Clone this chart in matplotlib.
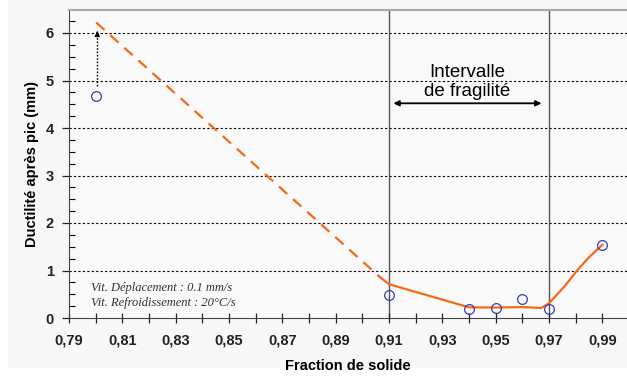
import matplotlib
matplotlib.use("Agg")
import matplotlib.pyplot as plt
from matplotlib.patches import Rectangle

# measured points (open circles)
frac_meas = [0.80, 0.91, 0.94, 0.95, 0.96, 0.97, 0.99]
duct_meas = [4.67, 0.49, 0.20, 0.21, 0.41, 0.18, 1.54]

# fitted trend: dashed extrapolated part, then solid part
frac_dash = [0.8002, 0.9066]
duct_dash = [6.22, 0.86]
frac_fit = [0.9066, 0.91, 0.94, 0.95, 0.96, 0.967, 0.97, 0.9716, 0.976, 0.9805, 0.985, 0.99]
duct_fit = [0.86, 0.71, 0.225, 0.22, 0.23, 0.21, 0.31, 0.41, 0.68, 1.0, 1.28, 1.54]

x_ticks = [0.79, 0.81, 0.83, 0.85, 0.87, 0.89, 0.91, 0.93, 0.95, 0.97, 0.99]
y_ticks = [0, 1, 2, 3, 4, 5, 6]
brittle_bounds = [0.91, 0.97]

plt.rcParams["font.family"] = ["Liberation Sans", "DejaVu Sans"]

fig = plt.figure(figsize=(6.27, 3.78), dpi=100, facecolor="white")
fig.patches.append(Rectangle((8 / 627, 11 / 378), 1, 1, transform=fig.transFigure,
                             color="#f7f7f7", zorder=-10))
ax = fig.add_axes([69 / 627, 60 / 378, 558 / 627, 308 / 378])
ax.set_facecolor("#f9f9f9")

ax.set_xlim(0.79, 0.79 + 558 / 2667)
ax.set_ylim(0, 308 / 47.5)

for y in y_ticks[1:]:
    ax.axhline(y, color="black", lw=0.8, ls=(0, (2, 2)), zorder=1)
for xb in brittle_bounds:
    ax.axvline(xb, color="#555555", lw=1.0, zorder=1)

ax.plot(frac_dash, duct_dash, color="#f26a1b", lw=1.6, ls=(0, (5, 3.5)), zorder=3)
ax.plot(frac_fit, duct_fit, color="#f26a1b", lw=1.6, zorder=3)
ax.plot(frac_meas, duct_meas, "o", mfc="none", mec="#3b3bb0", mew=0.9, ms=7, zorder=4)

# vertical dotted arrow from measured point to extrapolated value
ax.plot([0.8006, 0.8006], [4.88, 6.0], color="black", lw=1.0, ls=(0, (1.2, 1.2)), zorder=2)
ax.annotate("", xy=(0.8006, 6.1), xytext=(0.8006, 5.95),
            arrowprops=dict(arrowstyle="-|>", color="black", lw=1.0, mutation_scale=7))
# brittleness interval arrow
ax.annotate("", xy=(0.9106, 4.52), xytext=(0.9682, 4.52),
            arrowprops=dict(arrowstyle="<|-|>", color="black", lw=1.3, mutation_scale=8))
ax.text(0.9392, 4.97, "Intervalle\nde fragilité", ha="center", va="center",
        fontsize=13.5, linespacing=1.2)

ax.text(0.7982, 0.64, "Vit. Déplacement : 0.1 mm/s", family=["Liberation Serif"],
        style="italic", fontsize=9, va="center", color="#333333")
ax.text(0.7982, 0.32, "Vit. Refroidissement : 20°C/s", family=["Liberation Serif"],
        style="italic", fontsize=9, va="center", color="#333333")

ax.set_xticks(x_ticks)
ax.set_xticklabels([f"{v:.2f}".replace(".", ",") for v in x_ticks], fontweight="bold", fontsize=10.5)
ax.set_xticks([0.79 + 0.01 * i for i in range(21)], minor=True)
ax.set_yticks(y_ticks)
ax.set_yticklabels([str(v) for v in y_ticks], fontweight="bold", fontsize=10.5)
ax.set_yticks([0.25 * i for i in range(26)], minor=True)

ax.tick_params(axis="x", which="both", direction="inout", length=7, width=0.9, pad=8, colors="#222222")
ax.tick_params(axis="y", which="major", direction="out", length=5, width=0.9, pad=6, colors="#222222")
ax.tick_params(axis="y", which="minor", direction="in", length=4, width=0.8)

ax.spines["right"].set_visible(False)
ax.spines["top"].set_color("#aaaaaa")
ax.spines["top"].set_linewidth(1.5)
ax.spines["left"].set_color("#444444")
ax.spines["bottom"].set_color("#444444")

ax.set_xlabel("Fraction de solide", fontweight="bold", fontsize=10.5, labelpad=8)
ax.set_ylabel("Ductilité après pic (mm)", fontweight="bold", fontsize=10.5, labelpad=5)

fig.savefig("out.png", dpi=100, facecolor=fig.get_facecolor())
